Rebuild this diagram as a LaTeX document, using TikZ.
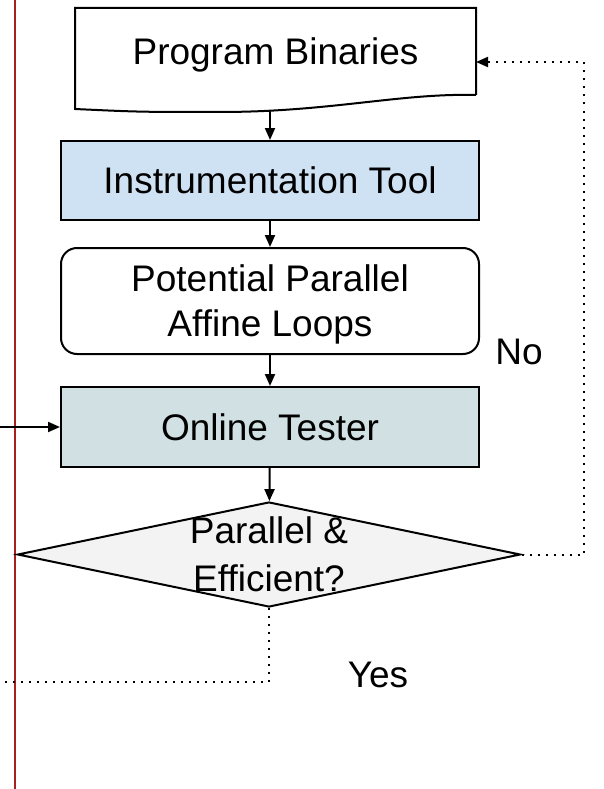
\documentclass[tikz,border=0pt]{standalone}
\usepackage{fontspec}
\setmainfont{Liberation Sans}
\usetikzlibrary{arrows.meta}
\usetikzlibrary{positioning,shapes.geometric}
\definecolor{itblue}{RGB}{207,226,243}
\definecolor{otgray}{RGB}{208,224,227}
\definecolor{pegray}{RGB}{243,243,243}
\definecolor{margred}{RGB}{170,30,30}

\begin{document}
\begin{tikzpicture}[x=1pt,y=-1pt]
\useasboundingbox (0,0) rectangle (604,789);
\draw[margred, line width=2pt] (15,0) -- (15,789);

\begin{scope}[every node/.style={rectangle,line width=2pt,inner sep=0pt,text depth=0pt,
              minimum width=418pt,align=center,font=\fontsize{37}{45}\selectfont}]
    \node[minimum width=399pt, minimum height=85pt] (PB) at (275.5,51.5) {Program Binaries};
    \node[draw, fill=itblue, minimum height=79pt] (IT) at (270,180.5) {Instrumentation Tool};
    \node[draw, rounded corners=16pt, minimum height=106pt] (PP) at (270,301) {Potential Parallel\\Affine Loops};
    \node[draw, fill=otgray, minimum height=80pt] (OT) at (270,427) {Online Tester};
    \node[draw, fill=pegray, diamond, minimum width=503pt, minimum height=105pt] (PE) at (269,554.5) {};
    \node[font=\fontsize{37}{48}\selectfont] (PEtext) at (PE) {Parallel \&\\Efficient?};
\end{scope}

% document shape round the first node
\draw[line width=2pt] (PB.south east) -- (PB.north east) -- (PB.north west)
    -- ([yshift=-14pt]PB.south west) .. controls (140,112) .. (220,112)
    .. controls (330,112) and (400,93) .. (PB.south east);

\node[font=\fontsize{37}{45}\selectfont] (No) at (519,352) {No};
\node[font=\fontsize{37}{45}\selectfont] (Yes) at (378,675) {Yes};

\begin{scope}[>={Triangle[length=12pt,width=10pt]},
              every edge/.style={draw,line width=2pt}]
    \coordinate (PBw) at (270,111);
    \coordinate (PBr) at (PB.east |- 0,62);
    \coordinate (OTin) at (0,427);
    \coordinate (YesEnd) at (0,682);
    \path [->] (PBw) edge (IT);
    \path [->] (IT) edge (PP);
    \path [->] (PP) edge (OT);
    \path [->] (OT) edge (PE);
    \path [->] (OTin) edge (OT);
    \draw [->, line width=2pt, dash pattern=on 2pt off 6pt] (PE.east) -- ++(62,0) |- (PBr);
    \draw [line width=2pt, dash pattern=on 2pt off 6pt] (PE.south) |- (YesEnd);
\end{scope}
\end{tikzpicture}
\end{document}
